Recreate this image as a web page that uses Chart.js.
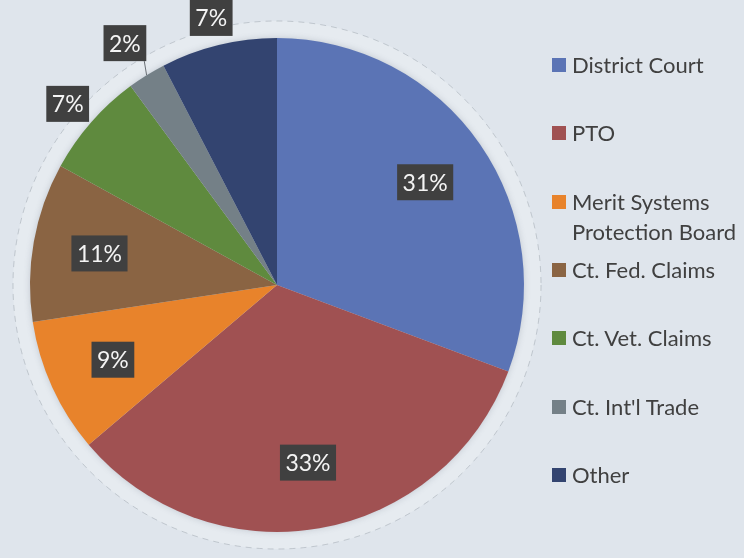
<!DOCTYPE html>
<html>
<head>
<meta charset="utf-8">
<script src="https://cdn.jsdelivr.net/npm/chart.js@4.4.0/dist/chart.umd.min.js"></script>
<style>
  html, body { margin: 0; padding: 0; background: #dfe5ec; }
  #wrap { position: relative; width: 744px; height: 558px; }
  #legend { position: absolute; left: 552px; top: 0; font-family: Lato, sans-serif; font-size: 22px; color: #404040; }
  .item { position: absolute; left: 0; white-space: nowrap; line-height: 30px; }
  .sw { position: absolute; left: 0; top: 8px; width: 14px; height: 14px; }
  .txt { position: absolute; left: 20px; top: 0; }
</style>
</head>
<body>
<div id="wrap">
  <canvas id="pie" width="744" height="558"></canvas>
  <div id="legend"></div>
</div>
<script>
var labels = ["District Court", "PTO", "Merit Systems\nProtection Board", "Ct. Fed. Claims", "Ct. Vet. Claims", "Ct. Int'l Trade", "Other"]
var shares = [30.7, 33.1, 8.8, 10.4, 6.9, 2.5, 7.6]
var pctLabels = ["31%", "33%", "9%", "11%", "7%", "2%", "7%"]
var colors = ["#5b74b5", "#a05152", "#e8832b", "#8a6443", "#5f8a3e", "#748087", "#334470"]

//soft light ring behind the pie
const ringPlugin = {
    id: 'ring',
    beforeDatasetsDraw(chart) {
        const arc = chart.getDatasetMeta(0).data[0]
        const {ctx} = chart
        ctx.save()
        ctx.beginPath()
        ctx.arc(arc.x, arc.y, arc.outerRadius + 17, 0, Math.PI * 2)
        ctx.fillStyle = "#e6ebf0"
        ctx.fill()
        ctx.setLineDash([6, 5])
        ctx.strokeStyle = "rgba(110,118,130,0.3)"
        ctx.lineWidth = 1
        ctx.stroke()
        ctx.restore()
        ctx.save()
        ctx.beginPath()
        ctx.arc(arc.x, arc.y, arc.outerRadius, 0, Math.PI * 2)
        ctx.fillStyle = "#cfd6de"
        ctx.shadowColor = "rgba(110,120,135,0.3)"
        ctx.shadowBlur = 6
        ctx.fill()
        ctx.restore()
    }
}

//dark boxes with the percentages
const boxLabelPlugin = {
    id: 'boxLabels',
    afterDatasetsDraw(chart) {
        const {ctx} = chart
        const meta = chart.getDatasetMeta(0)
        ctx.save()
        ctx.font = "23px Lato"
        ctx.textAlign = "center"
        ctx.textBaseline = "middle"
        meta.data.forEach((arc, i) => {
            const mid = (arc.startAngle + arc.endAngle) / 2
            const cos = Math.cos(mid), sin = Math.sin(mid)
            const text = pctLabels[i]
            const w = ctx.measureText(text).width + 11
            const h = 36
            const small = shares[i] < 8
            const leader = shares[i] < 5
            let x, y
            if (small) {
                //outside the pie, box pushed away from the edge
                const r = arc.outerRadius * (leader ? 1.08 : 1.04)
                x = arc.x + cos * r + cos * w / 2
                y = arc.y + sin * r + sin * h / 2
            } else {
                const r = arc.outerRadius * 0.73
                x = arc.x + cos * r
                y = arc.y + sin * r
            }
            if (leader) {
                ctx.strokeStyle = "#6a6f75"
                ctx.lineWidth = 1
                ctx.beginPath()
                ctx.moveTo(arc.x + cos * arc.outerRadius, arc.y + sin * arc.outerRadius)
                ctx.lineTo(x + w / 2 - 2, y + h / 2)
                ctx.stroke()
            }
            ctx.fillStyle = "#404040"
            ctx.fillRect(x - w / 2, y - h / 2, w, h)
            ctx.fillStyle = "#f4f4f4"
            ctx.fillText(text, x, y + 1)
        })
        ctx.restore()
    }
}

new Chart(document.getElementById('pie'), {
    type: 'pie',
    data: {
        labels: labels,
        datasets: [{
            data: shares,
            backgroundColor: colors,
            borderWidth: 0
        }]
    },
    options: {
        responsive: false,
        animation: false,
        layout: {
            padding: {left: 30, right: 220, top: 38, bottom: 26}
        },
        plugins: {
            legend: { display: false },
            tooltip: { enabled: false }
        }
    },
    plugins: [ringPlugin, boxLabelPlugin]
})

//legend on the right
const legend = document.getElementById("legend")
for (let i = 0; i < labels.length; i++) {
    const top = 50 + i * 68.3
    legend.innerHTML += `
        <div class="item" style="top: ${top}px;">
            <div class="sw" style="background-color: ${colors[i]};"></div>
            <div class="txt">${labels[i].replace("\n", "<br>")}</div>
        </div>`
}
</script>
</body>
</html>
